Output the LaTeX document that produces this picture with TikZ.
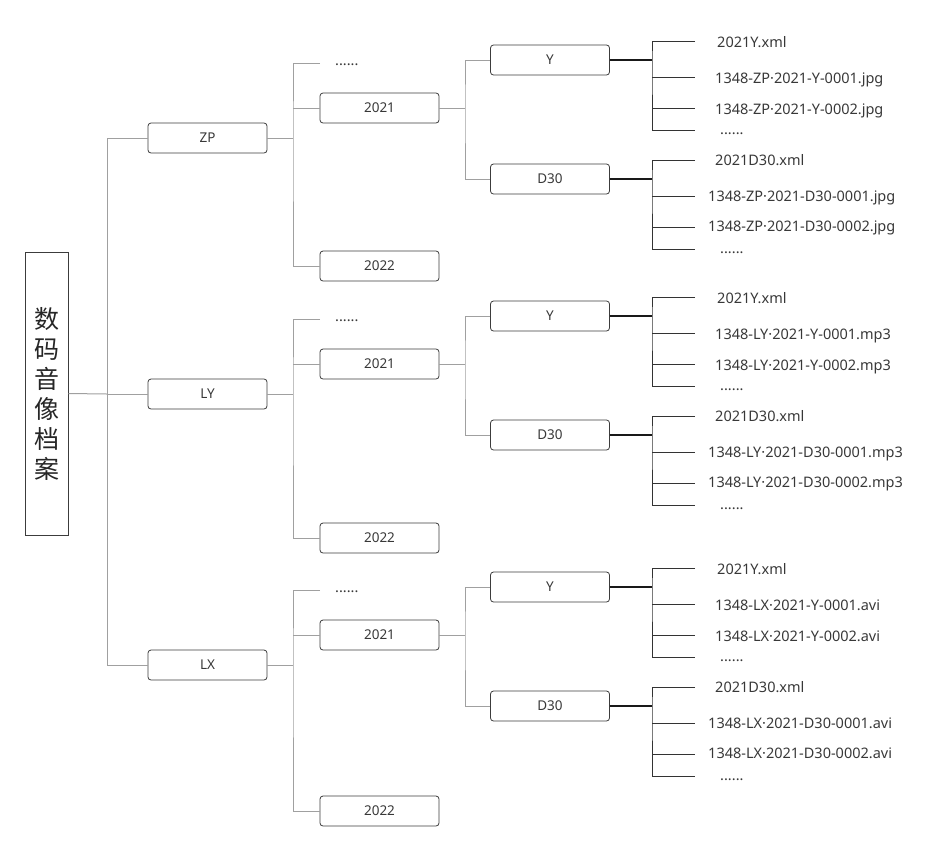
\documentclass[tikz,border=0pt]{standalone}
\usepackage{fontspec}
\setmainfont{Noto Sans}
\newfontfamily\cjk{Noto Sans CJK SC}
\usetikzlibrary{positioning}
\definecolor{linegray}{HTML}{A0A0A0}
\definecolor{boxline}{HTML}{3C3C3C}
\definecolor{txtgray}{HTML}{383838}

\tikzset{
  folder/.style={draw=boxline, rounded corners=3pt, minimum width=119pt, minimum height=30pt, inner sep=0pt, text=txtgray, line width=0.8pt, font=\fontsize{13.5}{16}\selectfont},
  filename/.style={anchor=base west, inner sep=0pt, text=txtgray, font=\fontsize{14.5}{17}\selectfont},
  branch/.style={draw=linegray, line width=1pt},
  stem/.style={draw=black!90, line width=1.4pt},
  leafline/.style={draw=black!80, line width=0.9pt},
}

\begin{document}
\begin{tikzpicture}[x=1pt,y=-1pt]
\useasboundingbox (0,0) rectangle (937,852);

% root
\node[draw=boxline, line width=1pt, minimum width=43pt, minimum height=283pt, inner sep=0pt, align=center, text=black!85, font=\cjk\fontsize{25}{30}\selectfont] (root) at (46.5,393.5) {数\\码\\音\\像\\档\\案};
\coordinate (rootbus) at (107,394);
\draw[branch] (root.east) -- (rootbus);

\foreach \grp/\gy/\ftype/\gl in {ZP/138/jpg/128, LY/394/mp3/144, LX/665/avi/146} {
  \node[folder] (\grp) at (207.5,\gy) {\grp};
  \node[folder] (\grp 2021) at (379.5,{\gy-30}) {2021};
  \node[folder] (\grp 2022) at (379.5,{\gy+\gl}) {2022};
  \node[filename] (\grp more) at (335,{\gy-73}) {......};
  \coordinate (\grp moreend) at (320,{\gy-75});
  \coordinate (\grp bus) at (293,\gy);
  \draw[branch] (rootbus) |- (\grp.west);
  \draw[branch] (\grp.east) -- (\grp bus);
  \draw[branch] (\grp moreend) -| (\grp bus) |- (\grp 2022.west);
  \draw[branch] (\grp bus |- \grp 2021) -- (\grp 2021.west);

  % Y and D30
  \node[folder] (\grp Y) at (550,{\gy-78}) {Y};
  \node[folder] (\grp D30) at (550,{\gy+41}) {D30};
  \coordinate (\grp yearbus) at (465,{\gy-30});
  \draw[branch] (\grp 2021) -- (\grp yearbus);
  \draw[branch] (\grp Y.west) -| (\grp yearbus) |- (\grp D30.west);

  % files
  \foreach \lv/\ly/\fx/\xx/\ba/\bb/\bc in {Y/-78/715/717/-13/23/54, D30/41/708/715/-14/22/52} {
    \coordinate (\grp\lv bus) at (652,{\gy+(\ly)});
    \coordinate (\grp\lv ea) at (695,{\gy+(\ly)-19});
    \coordinate (\grp\lv eb) at (695,{\gy+(\ly)+17});
    \coordinate (\grp\lv ec) at (695,{\gy+(\ly)+48});
    \coordinate (\grp\lv ed) at (695,{\gy+(\ly)+70});
    \draw[stem] (\grp\lv.east) -- (\grp\lv bus);
    \draw[leafline] (\grp\lv ea) -| (\grp\lv bus) |- (\grp\lv ed);
    \draw[leafline] (\grp\lv bus |- \grp\lv eb) -- (\grp\lv eb);
    \draw[leafline] (\grp\lv bus |- \grp\lv ec) -- (\grp\lv ec);
    \node[filename] (\grp\lv xml) at (\xx,{\gy+(\ly)+(\ba)}) {2021\lv.xml};
    \node[filename] (\grp\lv one) at (\fx,{\gy+(\ly)+(\bb)}) {1348-\grp·2021-\lv-0001.\ftype};
    \node[filename] (\grp\lv two) at (\fx,{\gy+(\ly)+(\bc)}) {1348-\grp·2021-\lv-0002.\ftype};
    \node[filename] (\grp\lv more) at (720,{\gy+(\ly)+74}) {......};
  }
}
\end{tikzpicture}
\end{document}
